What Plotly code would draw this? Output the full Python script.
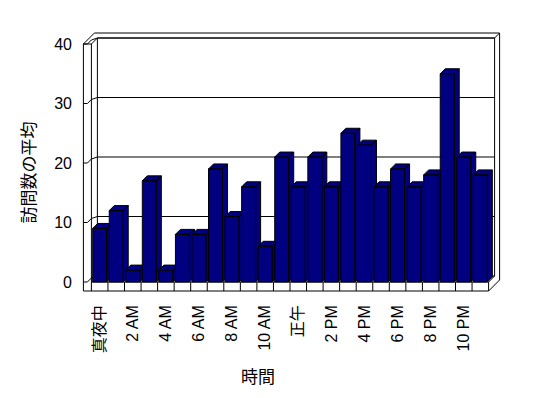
import plotly.graph_objects as go

# ---------------- data ----------------
hours = ["真夜中", "1 AM", "2 AM", "3 AM", "4 AM", "5 AM", "6 AM", "7 AM", "8 AM", "9 AM",
         "10 AM", "11 AM", "正午", "1 PM", "2 PM", "3 PM", "4 PM", "5 PM", "6 PM", "7 PM",
         "8 PM", "9 PM", "10 PM", "11 PM"]
visits = [9, 12, 2, 17, 2, 8, 8, 19, 11, 16, 6, 21, 16, 21, 16, 25, 23, 16, 19, 16, 18, 35, 21, 18]
tick_positions = [0, 2, 4, 6, 8, 10, 12, 14, 16, 18, 20, 22]
tick_labels = ["真夜中", "2 AM", "4 AM", "6 AM", "8 AM", "10 AM", "正午", "2 PM", "4 PM", "6 PM", "8 PM", "10 PM"]
y_ticks = [0, 10, 20, 30, 40]
y_title = "訪問数の平均"
x_title = "時間"

# ---------------- geometry / style ----------------
OFF = 8                                    # page body margin of the browser
W, H = 548 - OFF, 398 - OFF
PL, PR, PT, PB = 80, 502, 30, 292          # plot area in window pixels
SX = 16.55                                 # px per category
SY = 5.95                                  # px per unit
X0PX, Y0PX = 91.4, 282.0                   # pixel of category boundary -0.5 / value 0 (front plane)
NAVY = "#000080"
FONT = "Liberation Sans, Noto Sans CJK JP, sans-serif"


def X(px):
    return -0.5 + (px - X0PX) / SX


def Y(py):
    return (Y0PX - py) / SY


def xpx(x):
    return X0PX + (x + 0.5) * SX


def ypx(y):
    return Y0PX - y * SY


n = len(visits)
ymax = y_ticks[-1]

fig = go.Figure()

# ---------------- 3D bars ----------------
hw = 7.0 / SX          # half bar width
bdx = 5.0 / SX         # bar depth (x)
bdy = 5.0 / SY         # bar depth (y)
for i, v in enumerate(visits):
    xl, xr = i - hw, i + hw
    xs = [xl, xr, xr, xl, xl, None,
          xr, xr + bdx, xr + bdx, xr, xr, None,
          xl, xr, xr + bdx, xl + bdx, xl]
    ys = [0, 0, v, v, 0, None,
          0, bdy, v + bdy, v, 0, None,
          v, v, v + bdy, v + bdy, v]
    fig.add_trace(go.Scatter(x=xs, y=ys, mode="lines", fill="toself", fillcolor=NAVY,
                             line=dict(color="black", width=1), hoverinfo="skip",
                             showlegend=False, name=hours[i]))

# ---------------- walls / floor / grid as shapes ----------------
shapes = []


def seg(p):
    path = "M " + " L ".join(f"{X(a):.4f},{Y(b):.4f}" for a, b in p)
    shapes.append(dict(type="path", path=path, xref="x", yref="y",
                       line=dict(color="black", width=1), layer="below"))


xl_front = xpx(-0.5)
xr_front = xpx(n - 0.5)
D = 6.0          # wall depth in px
T = 5.0          # back wall thickness
LT = 8.0         # left wall thickness
FT = 9.0         # floor thickness
ytop_f = ypx(ymax)
ybot_f = ypx(0)

# gridlines (back wall + left wall)
for v in y_ticks:
    yf = ypx(v)
    seg([(xl_front - LT, yf), (xl_front - LT + 4, yf), (xl_front, yf - 4),
         (xl_front + D, yf - D), (xr_front + D, yf - D)])

# left wall
seg([(xl_front - LT, ybot_f + FT), (xl_front - LT, ytop_f), (xl_front, ytop_f), (xl_front, ybot_f + FT)])
seg([(xl_front - LT, ytop_f), (xl_front - LT + D + T, ytop_f - D - T), (xr_front + D + T, ytop_f - D - T),
     (xr_front + D + T, ybot_f - 2)])
seg([(xl_front, ytop_f), (xl_front + D, ytop_f - D), (xr_front + D, ytop_f - D),
     (xr_front + D + T, ytop_f - D - T)])
seg([(xl_front + D, ytop_f - D), (xl_front + D, ybot_f - D)])
seg([(xr_front + D, ytop_f - D), (xr_front + D, ybot_f - D)])

# floor
seg([(xl_front - LT, ybot_f + FT), (xr_front, ybot_f + FT), (xr_front, ybot_f), (xl_front, ybot_f)])
seg([(xr_front, ybot_f), (xr_front + D, ybot_f - D)])
seg([(xr_front, ybot_f + FT), (xr_front + D + T, ybot_f - 2)])
for k in range(1, n):
    xb = xpx(k - 0.5)
    seg([(xb, ybot_f), (xb, ybot_f + FT)])


# ---------------- annotations (axis titles) ----------------
def pxp(px):
    return (px - PL) / (PR - PL)


def pyp(py):
    return (PB - py) / (PB - PT)


annotations = [
    dict(text=y_title, x=pxp(28.5), y=pyp(173), xref="paper", yref="paper",
         xanchor="center", yanchor="middle", textangle=-90, showarrow=False,
         font=dict(family=FONT, size=17, color="black")),
    dict(text=x_title, x=pxp(258), y=pyp(377), xref="paper", yref="paper",
         xanchor="center", yanchor="middle", showarrow=False,
         font=dict(family=FONT, size=17, color="black")),
]

fig.update_layout(
    width=W, height=H,
    margin=dict(l=PL - OFF, r=W - (PR - OFF), t=PT - OFF, b=H - (PB - OFF), pad=0),
    paper_bgcolor="white", plot_bgcolor="white",
    showlegend=False,
    shapes=shapes,
    annotations=annotations,
    font=dict(family=FONT, size=16, color="black"),
    xaxis=dict(range=[X(PL), X(PR)], showgrid=False, zeroline=False, showline=False,
               tickmode="array", tickvals=tick_positions, ticktext=tick_labels,
               tickangle=-90, ticks="", ticklabelstandoff=9,
               tickfont=dict(family=FONT, size=16, color="black"), fixedrange=True),
    yaxis=dict(range=[Y(PB), Y(PT)], showgrid=False, zeroline=False, showline=False,
               tickmode="array", tickvals=y_ticks, ticktext=[str(t) for t in y_ticks],
               ticks="", ticklabelstandoff=7,
               tickfont=dict(family=FONT, size=16, color="black"), fixedrange=True),
)

fig.write_html("out.html")
